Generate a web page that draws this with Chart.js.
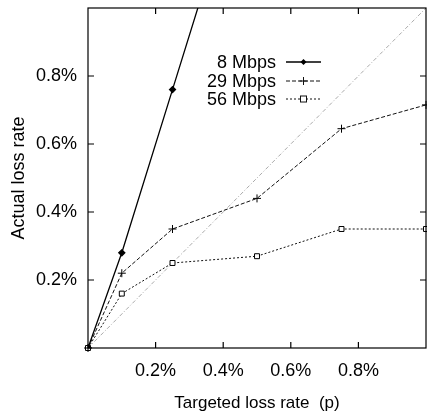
<!DOCTYPE html>
<html>
<head>
<meta charset="utf-8">
<script src="https://cdn.jsdelivr.net/npm/chart.js@4"></script>
<style>
  html, body { margin: 0; padding: 0; background: #fff; }
  #wrap { width: 427px; height: 414px; }
</style>
</head>
<body>
<div id="wrap"><canvas id="chart" width="427" height="414"></canvas></div>
<script>
// targeted loss rate (%), x values
const targeted = [0, 0.1, 0.25, 0.5, 0.75, 1.0];
// actual loss rate (%) per link speed
const mbps8 = [0, 0.28, 0.76, 1.56];
const mbps29 = [0, 0.22, 0.35, 0.44, 0.645, 0.715];
const mbps56 = [0, 0.16, 0.25, 0.27, 0.35, 0.35];
const seriesLabels = ['8 Mbps', '29 Mbps', '56 Mbps'];
const tickValues = [0.2, 0.4, 0.6, 0.8];

const FONT = 'Liberation Sans, Arial, sans-serif';
const FSIZE = 18;

function pts(ys) {
  return ys.map((y, i) => ({ x: targeted[i], y: y }));
}

// inward ticks, box frame and gnuplot-style legend
const framePlugin = {
  id: 'frame',
  afterDatasetsDraw(chart) {
    const { ctx, chartArea: a, scales } = chart;
    ctx.save();
    ctx.strokeStyle = '#000';
    ctx.lineWidth = 1.2;
    ctx.setLineDash([]);
    ctx.strokeRect(a.left, a.top, a.right - a.left, a.bottom - a.top);
    const len = 6;
    ctx.beginPath();
    tickValues.forEach(v => {
      const px = scales.x.getPixelForValue(v);
      ctx.moveTo(px, a.bottom); ctx.lineTo(px, a.bottom - len);
      ctx.moveTo(px, a.top); ctx.lineTo(px, a.top + len);
      const py = scales.y.getPixelForValue(v);
      ctx.moveTo(a.left, py); ctx.lineTo(a.left + len, py);
      ctx.moveTo(a.right, py); ctx.lineTo(a.right - len, py);
    });
    ctx.stroke();

    // legend: text right aligned, sample to the right
    ctx.font = FSIZE + 'px ' + FONT;
    ctx.fillStyle = '#000';
    ctx.textAlign = 'right';
    ctx.textBaseline = 'middle';
    const textRight = 276, lx0 = 286, lx1 = 321;
    const rows = [62, 81, 99];
    chart.data.datasets.slice(0, 3).forEach((ds, i) => {
      const y = rows[i];
      ctx.fillText(ds.label, textRight, y + 1);
      ctx.strokeStyle = ds.borderColor;
      ctx.lineWidth = ds.borderWidth;
      ctx.setLineDash(ds.borderDash || []);
      ctx.beginPath(); ctx.moveTo(lx0, y); ctx.lineTo(lx1, y); ctx.stroke();
      ctx.setLineDash([]);
      const mx = (lx0 + lx1) / 2;
      ctx.lineWidth = 1;
      ctx.beginPath();
      if (ds.pointStyle === 'rectRot') {
        ctx.moveTo(mx, y - 3); ctx.lineTo(mx + 3, y); ctx.lineTo(mx, y + 3); ctx.lineTo(mx - 3, y); ctx.closePath();
        ctx.fillStyle = '#000'; ctx.fill();
      } else if (ds.pointStyle === 'cross') {
        ctx.moveTo(mx - 4, y); ctx.lineTo(mx + 4, y); ctx.moveTo(mx, y - 4); ctx.lineTo(mx, y + 4); ctx.stroke();
      } else {
        ctx.fillStyle = '#fff';
        ctx.fillRect(mx - 3, y - 3, 6, 6);
        ctx.strokeRect(mx - 3, y - 3, 6, 6);
      }
      ctx.fillStyle = '#000';
    });
    ctx.restore();
  }
};

const onlyMajor = scale => {
  scale.ticks = tickValues.map(v => ({ value: v }));
};

new Chart(document.getElementById('chart'), {
  type: 'line',
  data: {
    datasets: [
      {
        label: seriesLabels[0], data: pts(mbps8),
        borderColor: '#000', borderWidth: 1.3,
        pointStyle: 'rectRot', pointRadius: 3, pointBackgroundColor: '#000', pointBorderColor: '#000'
      },
      {
        label: seriesLabels[1], data: pts(mbps29), clip: 6,
        borderColor: '#111', borderWidth: 1, borderDash: [4, 2],
        pointStyle: 'cross', pointRadius: 4, pointBorderColor: '#000', pointBorderWidth: 1
      },
      {
        label: seriesLabels[2], data: pts(mbps56), clip: 6,
        borderColor: '#111', borderWidth: 1, borderDash: [2, 2],
        pointStyle: 'rect', pointRadius: 3.5, pointBackgroundColor: '#fff', pointBorderColor: '#000', pointBorderWidth: 1
      },
      {
        label: 'p', data: [{ x: 0, y: 0 }, { x: 1, y: 1 }],
        borderColor: '#aaa', borderWidth: 1, borderDash: [4, 2, 1, 2],
        pointRadius: 0
      }
    ]
  },
  options: {
    responsive: false,
    animation: false,
    layout: { autoPadding: false, padding: { top: 8, right: 1, left: 0, bottom: 0 } },
    plugins: { legend: { display: false }, tooltip: { enabled: false } },
    scales: {
      x: {
        type: 'linear', min: 0, max: 1,
        grid: { display: false, drawTicks: false },
        border: { display: false },
        afterBuildTicks: onlyMajor,
        ticks: {
          padding: 12, color: '#000',
          font: { family: FONT, size: FSIZE },
          callback: v => v.toFixed(1) + '%'
        },
        title: {
          display: true, text: 'Targeted loss rate  (p)', color: '#000',
          font: { family: FONT, size: 17 }, padding: { top: 9, bottom: 0 }
        },
        afterFit: s => { s.height = 66; s.paddingLeft = 0; s.paddingRight = 0; }
      },
      y: {
        type: 'linear', min: 0, max: 1,
        grid: { display: false, drawTicks: false },
        border: { display: false },
        afterBuildTicks: onlyMajor,
        ticks: {
          padding: 11, color: '#000',
          font: { family: FONT, size: FSIZE },
          callback: v => v.toFixed(1) + '%'
        },
        title: {
          display: true, text: 'Actual loss rate', color: '#000',
          font: { family: FONT, size: FSIZE }, padding: { top: 8, bottom: 0 }
        },
        afterFit: s => { s.width = 88; s.paddingTop = 0; s.paddingBottom = 0; }
      }
    }
  },
  plugins: [framePlugin]
});
</script>
</body>
</html>
